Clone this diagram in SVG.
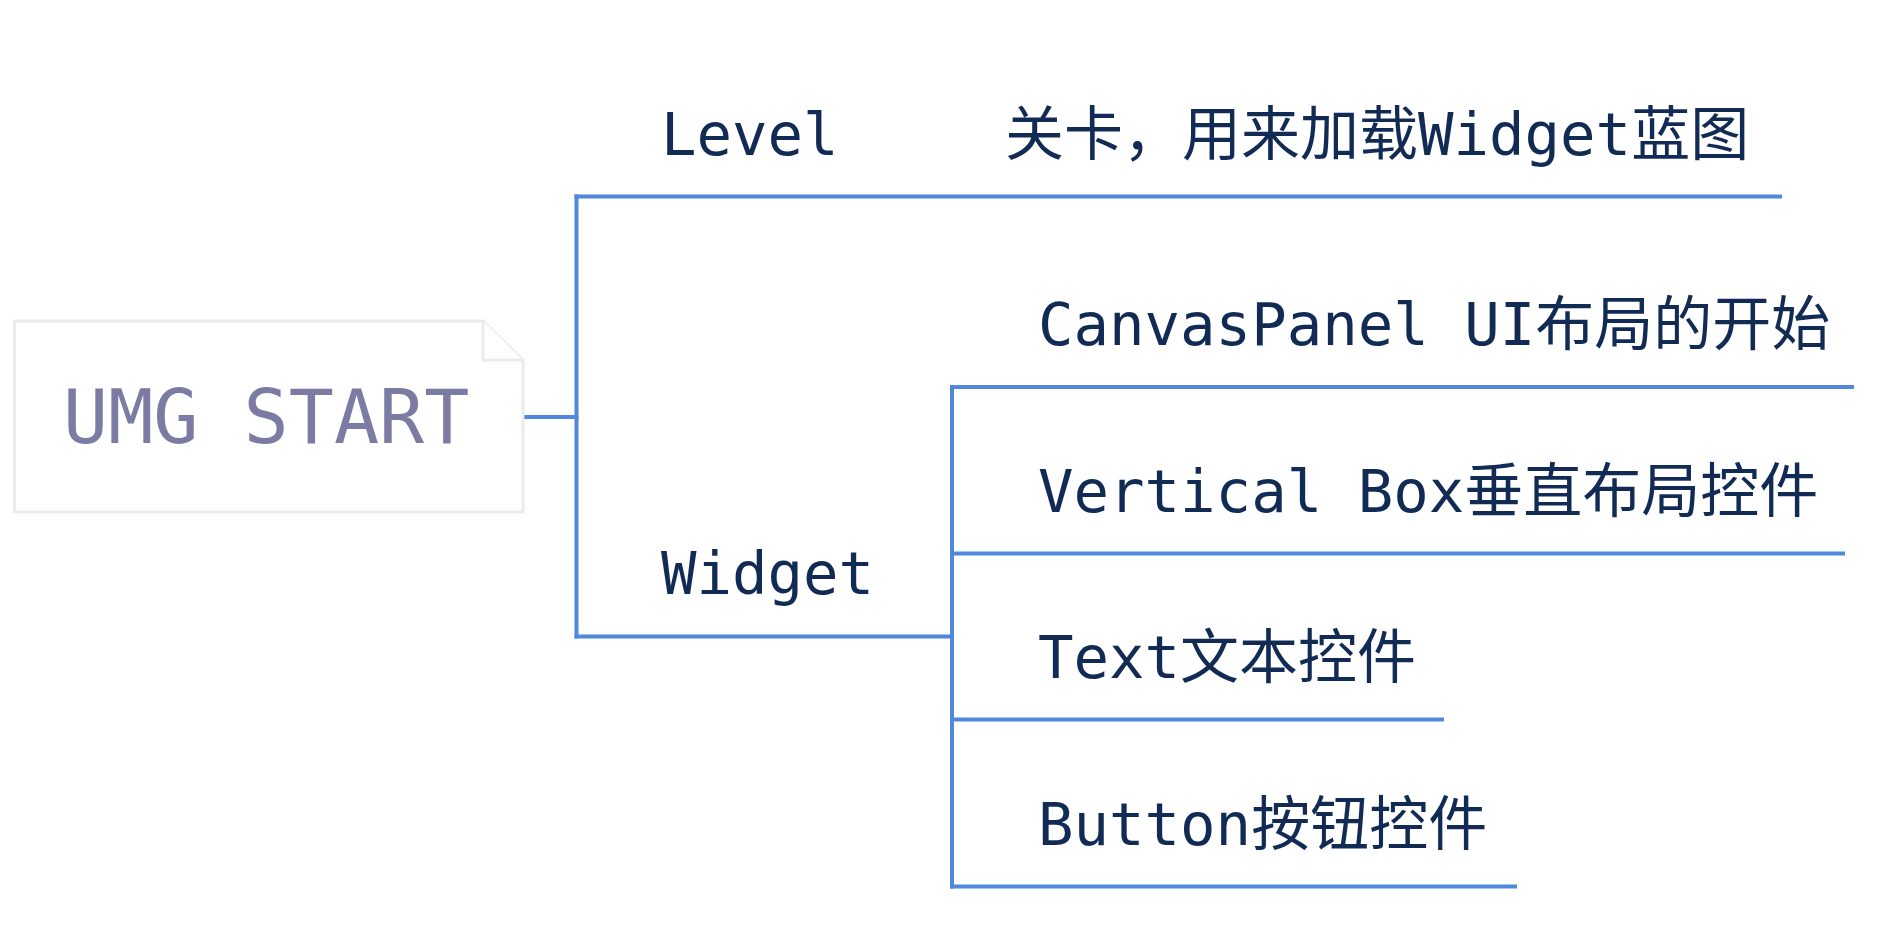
<svg xmlns="http://www.w3.org/2000/svg" width="1899" height="930" viewBox="0 0 1899 930">
<style>
.ln{stroke:#4f88dc;stroke-width:4;fill:none;stroke-linecap:square}
.t{font-family:"DejaVu Sans Mono","Noto Sans CJK SC",monospace;font-size:59px;fill:#112b55}
.root{font-family:"DejaVu Sans Mono","Noto Sans CJK SC",monospace;font-size:75px;fill:#7b7ba3}
.note{fill:#ffffff;stroke:#ebebeb;stroke-width:3}
</style>
<rect width="1899" height="930" fill="#ffffff"/>
<g id="connectors">
<path class="ln" d="M525 417 H576.5"/>
<path class="ln" d="M576.5 196.5 V636.5"/>
<path class="ln" d="M576.5 196.5 H1780"/>
<path class="ln" d="M576.5 636.5 H952"/>
<path class="ln" d="M952 387 V886.5"/>
<path class="ln" d="M952 387 H1852"/>
<path class="ln" d="M952 553.5 H1843"/>
<path class="ln" d="M952 719.5 H1442"/>
<path class="ln" d="M952 886.5 H1515"/>
</g>
<g id="root">
<path class="note" d="M14.5 321 H483 L523 360 V512 H14.5 Z"/>
<path class="note" d="M483 321 V360 H523" fill="none"/>
<text class="root" x="63" y="443">UMG START</text>
</g>
<g id="level"><text class="t" x="661" y="155">Level</text></g>
<g id="level-note"><text class="t" x="1005" y="155">关卡，用来加载Widget蓝图</text></g>
<g id="widget"><text class="t" x="661" y="594">Widget</text></g>
<g id="canvas"><text class="t" x="1038" y="345">CanvasPanel UI布局的开始</text></g>
<g id="vbox"><text class="t" x="1038" y="512">Vertical Box垂直布局控件</text></g>
<g id="text"><text class="t" x="1038" y="678">Text文本控件</text></g>
<g id="button"><text class="t" x="1038" y="845">Button按钮控件</text></g>
</svg>
